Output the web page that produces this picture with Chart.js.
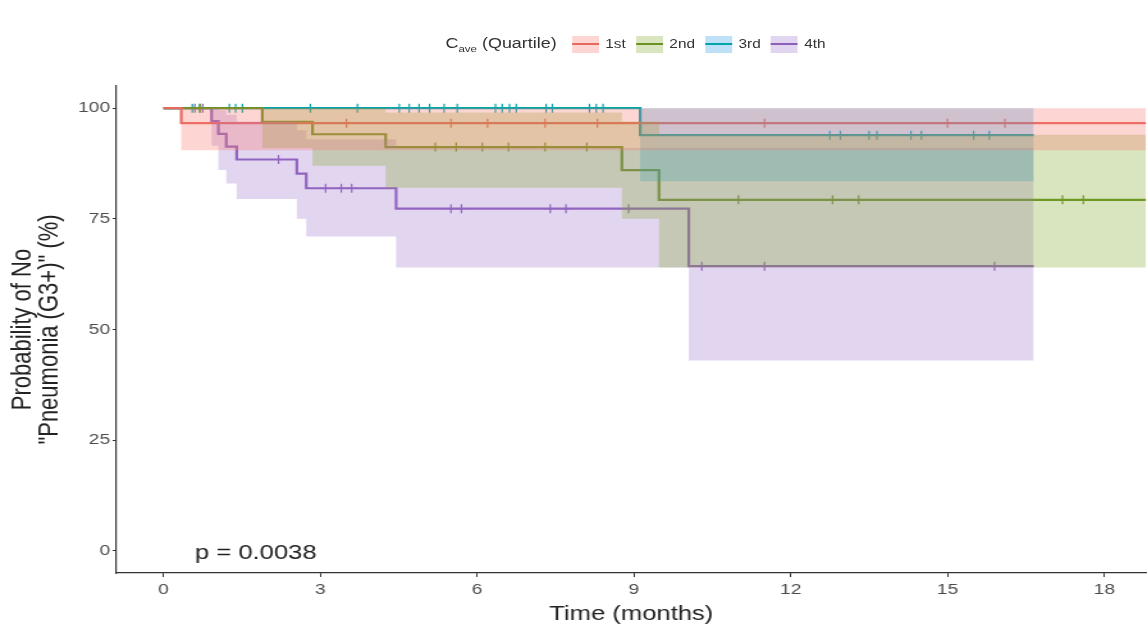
<!DOCTYPE html>
<html>
<head>
<meta charset="utf-8">
<script src="https://cdn.jsdelivr.net/npm/chart.js@4.4.1/dist/chart.umd.min.js"></script>
<style>
  body { margin: 0; background: #fff; overflow: hidden; }
  /* the reference is stretched sideways, so draw narrower and stretch */
  #wrap { position: relative; width: 901px; height: 630px; transform: scaleX(1.2801); transform-origin: 0 0; }
  #km { position: absolute; left: 0; top: 0; }
  #legend { position: absolute; left: 348px; top: 35px; display: flex; align-items: center;
            font-family: "Liberation Sans", Arial, sans-serif; font-size: 12px; color: #333; }
  #legend .ttl { font-size: 14px; margin-right: 4px; }
  .sw { position: relative; width: 21px; height: 17px; margin-left: 8px; margin-right: 5px; }
  .sw i { position: absolute; left: 0; right: 0; top: 7.5px; height: 2px; }
</style>
</head>
<body>
<div id="wrap">
  <canvas id="km" width="901" height="630" style="width:901px;height:630px"></canvas>
  <div id="legend"><span class="ttl">C<sub style="font-size:9px">ave</sub> (Quartile)</span></div>
</div>
<script>
// groups
const groupNames = ['1st', '2nd', '3rd', '4th'];
const lineColors = ['230,105,95', '105,145,35', '0,165,172', '140,95,185'];
const bandColors = ['248,118,109', '130,170,40', '40,155,230', '160,115,205'];

// Kaplan-Meier steps (months, %)
const times1 = [0, 0.34, 18.8];
const surv1  = [100, 96.6, 96.6];
const upper1 = [100, 100, 100];
const lower1 = [100, 90.5, 90.5];
const cens1  = [3.5, 5.5, 6.2, 7.3, 8.3, 11.5, 15.0, 16.1];

const times2 = [0, 1.89, 2.85, 4.25, 8.77, 9.48, 18.8];
const surv2  = [100, 96.9, 94.1, 91.2, 86.0, 79.3, 79.3];
const upper2 = [100, 100, 100, 99, 97, 94, 94];
const lower2 = [100, 91, 87, 82, 75, 64, 64];
const cens2  = [0.7, 5.2, 5.6, 6.1, 6.6, 7.3, 8.1, 11.0, 12.8, 13.3, 17.2, 17.6];

const times3 = [0, 9.12, 16.65];
const surv3  = [100, 93.9, 93.9];
const upper3 = [100, 100, 100];
const lower3 = [100, 83.5, 83.5];
const cens3  = [0.55, 0.69, 1.26, 1.38, 1.51, 2.81, 3.71, 4.51, 4.70, 4.89, 5.09, 5.37, 5.62,
                6.35, 6.48, 6.62, 6.75, 7.32, 7.44, 8.15, 8.28, 8.41,
                12.75, 12.95, 13.5, 13.65, 14.3, 14.5, 15.5, 15.8];

const times4 = [0, 0.92, 1.05, 1.2, 1.4, 2.55, 2.73, 4.45, 10.05, 16.65];
const surv4  = [100, 97.1, 94.2, 91.3, 88.4, 85.2, 81.9, 77.3, 64.3, 64.3];
const upper4 = [100, 100, 99.5, 98.5, 97, 95, 93, 91, 91, 91];
const lower4 = [100, 91.5, 86, 83, 79.5, 75, 71, 64, 43, 43];
const cens4  = [0.6, 0.75, 2.2, 3.1, 3.4, 3.6, 5.5, 5.7, 7.4, 7.7, 8.9, 10.3, 11.5, 15.9];

const xTicks = [0, 3, 6, 9, 12, 15, 18];
const yTicks = [0, 25, 50, 75, 100];
const pText = 'p = 0.0038';

const groups = [
  [times1, surv1, upper1, lower1, cens1],
  [times2, surv2, upper2, lower2, cens2],
  [times3, surv3, upper3, lower3, cens3],
  [times4, surv4, upper4, lower4, cens4]
];

// survival value at a censoring time
function survAt(t, times, surv) {
  var v = surv[0];
  for (var k = 0; k < times.length; k++) { if (times[k] <= t) v = surv[k]; }
  return v;
}

var datasets = [];
var legend = document.getElementById('legend');

for (var g = 0; g < groups.length; g++) {
  var times = groups[g][0], surv = groups[g][1], up = groups[g][2], lo = groups[g][3], cens = groups[g][4];

  datasets.push({
    data: times.map(function (t, i) { return {x: t, y: surv[i]}; }),
    stepped: true, borderColor: 'rgb(' + lineColors[g] + ')', borderWidth: 2.2,
    pointRadius: 0, fill: false, order: 2
  });
  datasets.push({
    data: cens.map(function (t) { return {x: t, y: survAt(t, times, surv)}; }),
    showLine: false, pointStyle: 'cross', pointRadius: 4.5, pointBorderWidth: 1.2,
    borderColor: 'rgb(' + lineColors[g] + ')', order: 2
  });
  // confidence band: upper filled down to lower
  datasets.push({
    data: times.map(function (t, i) { return {x: t, y: up[i]}; }),
    stepped: true, borderWidth: 0, pointRadius: 0,
    fill: '+1', backgroundColor: 'rgba(' + bandColors[g] + ',0.3)', order: 1
  });
  datasets.push({
    data: times.map(function (t, i) { return {x: t, y: lo[i]}; }),
    stepped: true, borderWidth: 0, pointRadius: 0, fill: false, order: 1
  });

  // legend entry
  var sw = document.createElement('span');
  sw.className = 'sw';
  sw.style.background = 'rgba(' + bandColors[g] + ',0.3)';
  var ln = document.createElement('i');
  ln.style.background = 'rgb(' + lineColors[g] + ')';
  sw.appendChild(ln);
  var lb = document.createElement('span');
  lb.textContent = groupNames[g];
  legend.appendChild(sw);
  legend.appendChild(lb);
}

const pvalLabel = {
  id: 'pvalLabel',
  afterDatasetsDraw(chart) {
    var ctx = chart.ctx;
    ctx.save();
    ctx.font = '20px "Liberation Sans", Arial, sans-serif';
    ctx.fillStyle = '#222';
    ctx.textAlign = 'left';
    ctx.textBaseline = 'middle';
    ctx.fillText(pText, chart.scales.x.getPixelForValue(0.6), chart.scales.y.getPixelForValue(-0.5));
    ctx.restore();
  }
};

var tickFont = {family: '"Liberation Sans", Arial, sans-serif', size: 15};
var titleFont = {family: '"Liberation Sans", Arial, sans-serif', size: 22, lineHeight: 0.95};

new Chart(document.getElementById('km'), {
  type: 'line',
  data: {datasets: datasets},
  plugins: [pvalLabel],
  options: {
    responsive: false,
    animation: false,
    layout: {padding: {top: 86, left: 0, right: 0, bottom: 0}},
    plugins: {
      legend: {display: false},
      tooltip: {enabled: false}
    },
    scales: {
      x: {
        type: 'linear', min: -0.9, max: 18.8,
        afterBuildTicks: function (s) { s.ticks = xTicks.map(function (v) { return {value: v}; }); },
        afterFit: function (s) { s.height = 57; },
        ticks: {color: '#4d4d4d', font: tickFont, padding: 4, maxRotation: 0},
        grid: {drawOnChartArea: false, drawTicks: true, tickLength: 4, color: '#333'},
        border: {display: true, color: '#333', width: 1.2},
        title: {display: true, text: 'Time (months)', color: '#222', font: {family: titleFont.family, size: 20, lineHeight: 1.2}, padding: {top: 0, bottom: 4}}
      },
      y: {
        type: 'linear', min: -5, max: 105,
        afterBuildTicks: function (s) { s.ticks = yTicks.map(function (v) { return {value: v}; }); },
        afterFit: function (s) { s.width = 91; },
        ticks: {color: '#4d4d4d', font: tickFont, padding: 2},
        grid: {drawOnChartArea: false, drawTicks: true, tickLength: 3, color: '#333'},
        border: {display: true, color: '#333', width: 1.2},
        title: {display: true, text: ['Probability of No', '"Pneumonia (G3+)" (%)'], color: '#222', font: titleFont, padding: {top: 7.5, bottom: 0}}
      }
    }
  }
});
</script>
</body>
</html>
